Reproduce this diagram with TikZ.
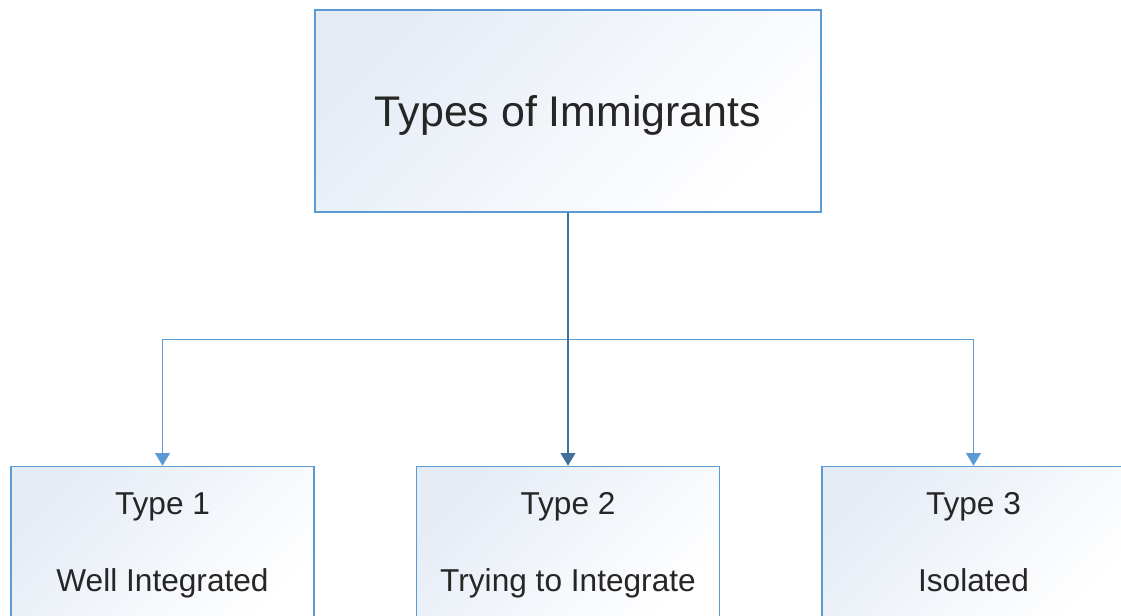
\documentclass[tikz,border=0pt]{standalone}
\usepackage{fontspec}
\setmainfont{Liberation Sans}
\usetikzlibrary{positioning,arrows.meta,calc}
\definecolor{boxline}{RGB}{91,155,213}
\definecolor{boxfill}{RGB}{229,236,246}
\definecolor{mainline}{RGB}{65,113,156}
\definecolor{ink}{RGB}{38,38,38}
\tikzset{
  box/.style={draw=boxline, line width=1.05pt, align=center, text=ink,
              shading=axis, top color=boxfill, bottom color=white, shading angle=45},
  topbox/.style={box, minimum width=12.65cm, minimum height=5.05cm, text depth=0pt,
                 font=\fontsize{30.5}{36}\selectfont},
  typebox/.style={box, minimum width=7.575cm, minimum height=3.95cm,
                  font=\fontsize{22.5}{54.8}\selectfont,
                  execute at end node=\vphantom{g}},
  link/.style={-{Triangle[length=9pt,width=10.5pt]}, line width=1.05pt, draw=boxline},
}

\begin{document}
\begin{tikzpicture}[node distance=2.525cm]
  \useasboundingbox (0,0) rectangle (28.025,-15.375);
  \clip (0,0) rectangle (28.025,-15.375);

  \node[topbox] (types) at (14.2,-2.775) {Types of Immigrants};
  \node[typebox, below=6.325cm of types.south, anchor=north] (t2) {Type 2\\Trying to Integrate};
  \node[typebox, left=of t2] (t1) {Type 1\\Well Integrated};
  \node[typebox, right=of t2] (t3) {Type 3\\Isolated};

  \foreach \b in {t1, t3}
    \draw[link] (types.south) -- ($(types.south)!0.5!(t2.north)$) -| (\b.north);
  \draw[link, draw=mainline] (types.south) -- (t2.north);
\end{tikzpicture}
\end{document}
